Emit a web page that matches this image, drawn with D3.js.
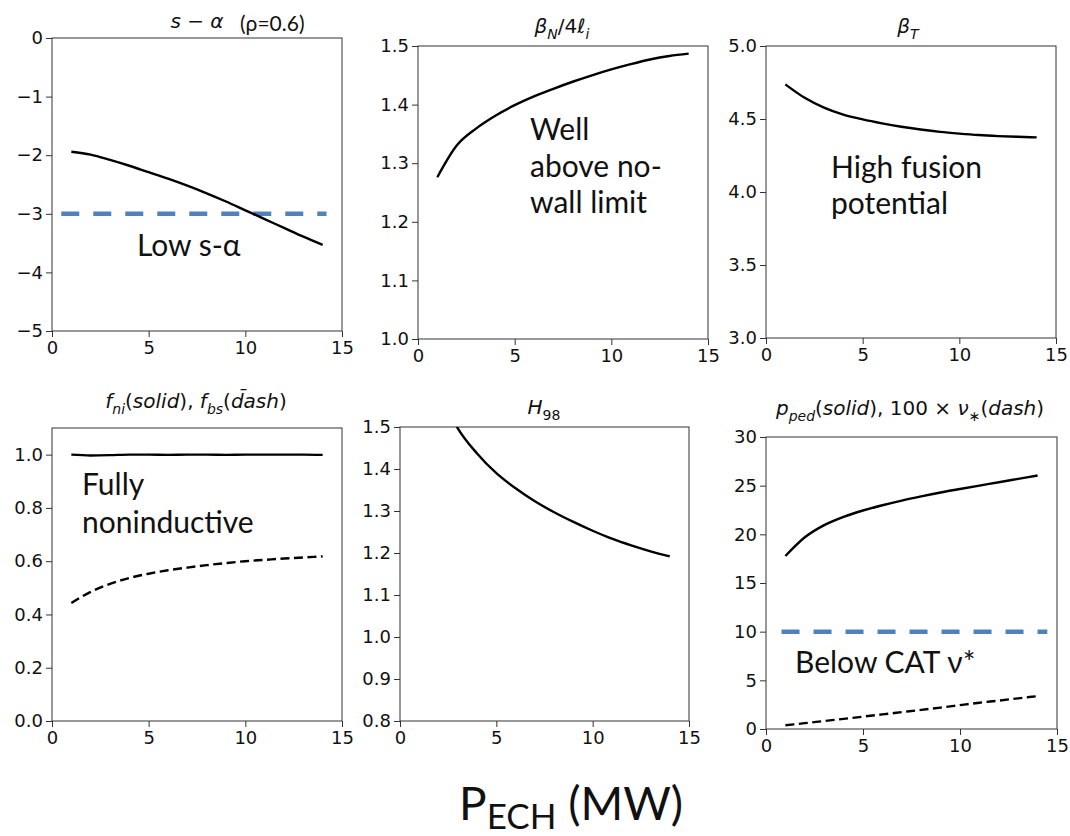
<!DOCTYPE html>
<html>
<head>
<meta charset="utf-8">
<script src="https://cdn.jsdelivr.net/npm/d3@7"></script>
<style>
  body { margin: 0; background: #fff; }
  .title { font-family: "DejaVu Sans", sans-serif; fill: #111; }
  .note { font-family: Lato, "Open Sans", sans-serif; font-size: 30px; fill: #111; }
</style>
</head>
<body>
<div id="container"></div>
<script>
/** CONSTANTS AND GLOBALS */
const width = 1070,
  height = 836;

/** DATA */
const pech = [1, 2, 3, 4, 5, 6, 7, 8, 9, 10, 11, 12, 13, 14];
const xTicks = [0, 5, 10, 15];

const sAlpha = [-1.94, -1.99, -2.08, -2.18, -2.29, -2.4, -2.52, -2.65, -2.79, -2.94, -3.09, -3.24, -3.39, -3.53];
const sAlphaLimit = -3;
const sAlphaLimitX = [0.48, 14.2];
const sAlphaTicks = [-5, -4, -3, -2, -1, 0];

const betaN4li = [1.276, 1.33, 1.359, 1.381, 1.399, 1.414, 1.427, 1.439, 1.45, 1.46, 1.469, 1.477, 1.483, 1.487];
const betaN4liTicks = [1.0, 1.1, 1.2, 1.3, 1.4, 1.5];

const betaT = [4.737, 4.645, 4.578, 4.53, 4.497, 4.47, 4.447, 4.428, 4.412, 4.4, 4.39, 4.383, 4.378, 4.374];
const betaTTicks = [3.0, 3.5, 4.0, 4.5, 5.0];

const fni = [1.0, 0.997, 0.998, 1.0, 1.0, 0.999, 1.0, 1.0, 0.999, 1.0, 1.0, 1.0, 1.0, 0.999];
const fbs = [0.443, 0.485, 0.515, 0.537, 0.553, 0.566, 0.576, 0.585, 0.593, 0.6, 0.605, 0.61, 0.614, 0.618];
const fTicks = [0.0, 0.2, 0.4, 0.6, 0.8, 1.0];

const h98 = [1.72, 1.59, 1.497, 1.437, 1.39, 1.354, 1.323, 1.297, 1.274, 1.253, 1.234, 1.218, 1.204, 1.192];
const h98Ticks = [0.8, 0.9, 1.0, 1.1, 1.2, 1.3, 1.4, 1.5];

const pPed = [17.77, 19.7, 20.95, 21.8, 22.45, 22.99, 23.47, 23.9, 24.3, 24.66, 25.01, 25.35, 25.7, 26.05];
const nuStar100 = [0.38, 0.6, 0.82, 1.04, 1.27, 1.5, 1.73, 1.96, 2.2, 2.45, 2.7, 2.92, 3.15, 3.38];
const nuStarLimit = 10;
const nuStarLimitX = [0.8, 14.5];
const pPedTicks = [0, 5, 10, 15, 20, 25, 30];

let svg;

/** PANELS */
const panels = [
  {
    box: { left: 52, top: 38, right: 342, bottom: 331 },
    yDomain: [-5, 0], yTicks: sAlphaTicks, yFmt: d3.format("d"),
    series: [{ y: sAlpha }],
    ref: { y: sAlphaLimit, x: sAlphaLimitX },
    title: { x: 197, y: 28, parts: [{ t: "s", it: true }, { t: " − " }, { t: "α", it: true }] },
    notes: [{ x: 137, y: 256, t: "Low s-α" }]
  },
  {
    box: { left: 418, top: 46, right: 708, bottom: 339 },
    yDomain: [1.0, 1.5], yTicks: betaN4liTicks, yFmt: d3.format(".1f"),
    series: [{ y: betaN4li }],
    title: { x: 562, y: 33, parts: [{ t: "β", it: true }, { t: "N", it: true, sub: true }, { t: "/4" }, { t: "ℓ", it: true }, { t: "i", it: true, sub: true }] },
    notes: [{ x: 530, y: 140, t: "Well" }, { x: 530, y: 177, t: "above no-" }, { x: 530, y: 213, t: "wall limit" }]
  },
  {
    box: { left: 766, top: 46, right: 1056, bottom: 338 },
    yDomain: [3.0, 5.0], yTicks: betaTTicks, yFmt: d3.format(".1f"),
    series: [{ y: betaT }],
    title: { x: 908, y: 33, parts: [{ t: "β", it: true }, { t: "T", it: true, sub: true }] },
    notes: [{ x: 831, y: 178, t: "High fusion" }, { x: 831, y: 214, t: "potential" }]
  },
  {
    box: { left: 52, top: 428, right: 342, bottom: 721 },
    yDomain: [0, 1.1], yTicks: fTicks, yFmt: d3.format(".1f"),
    series: [{ y: fni }, { y: fbs, dash: "9,4.5" }],
    title: { x: 196, y: 408, parts: [
      { t: "f", it: true }, { t: "ni", it: true, sub: true }, { t: "(" }, { t: "solid", it: true }, { t: "), " },
      { t: "f", it: true }, { t: "bs", it: true, sub: true }, { t: "(" }, { t: "d\u0304ash", it: true }, { t: ")" }] },
    notes: [{ x: 82, y: 495, t: "Fully" }, { x: 82, y: 533, t: "noninductive" }]
  },
  {
    box: { left: 400, top: 427, right: 689, bottom: 721 },
    yDomain: [0.8, 1.5], yTicks: h98Ticks, yFmt: d3.format(".1f"),
    series: [{ y: h98 }],
    title: { x: 544, y: 414, parts: [{ t: "H", it: true }, { t: "98", sub: true }] },
    notes: []
  },
  {
    box: { left: 766, top: 437, right: 1057, bottom: 729 },
    yDomain: [0, 30], yTicks: pPedTicks, yFmt: d3.format("d"),
    series: [{ y: pPed }, { y: nuStar100, dash: "9,4.5" }],
    ref: { y: nuStarLimit, x: nuStarLimitX },
    title: { x: 910, y: 415, parts: [
      { t: "p", it: true }, { t: "ped", it: true, sub: true }, { t: "(" }, { t: "solid", it: true }, { t: "), 100 × " },
      { t: "ν", it: true }, { t: "∗", sub: true }, { t: "(" }, { t: "dash", it: true }, { t: ")" }] },
    notes: [{ x: 795, y: 673, t: "Below CAT ν*" }]
  }
];

/** INIT */
function init() {
  svg = d3.select("#container")
    .append("svg")
    .attr("width", width)
    .attr("height", height)
    .style("background", "#fff");

  panels.forEach((p, i) => drawPanel(p, i));

  // shared x label
  const xl = svg.append("text")
    .attr("x", 459)
    .attr("y", 820)
    .attr("font-family", "Lato, 'Open Sans', sans-serif")
    .attr("font-size", 46)
    .attr("fill", "#111");
  xl.append("tspan").text("P");
  xl.append("tspan").text("ECH").attr("font-size", 35).attr("dy", 9);
  xl.append("tspan").text(" (MW)").attr("dy", -9);
}

function richText(sel, parts, size) {
  let shift = 0;
  parts.forEach(p => {
    const target = p.sub ? size * 0.3 : 0;
    sel.append("tspan")
      .text(p.t)
      .attr("font-style", p.it ? "italic" : "normal")
      .attr("font-size", p.sub ? size * 0.7 : size)
      .attr("dy", target - shift);
    shift = target;
  });
}

function styleAxis(a) {
  a.select(".domain").remove();
  a.selectAll(".tick line").attr("stroke", "#333");
  a.selectAll(".tick text")
    .attr("fill", "#111")
    .style("font-family", "'DejaVu Sans', sans-serif")
    .style("font-size", "18px");
}

function drawPanel(p, i) {
  const b = p.box;
  const x = d3.scaleLinear().domain([0, 15]).range([b.left, b.right]);
  const y = d3.scaleLinear().domain(p.yDomain).range([b.bottom, b.top]);

  const g = svg.append("g").attr("class", "panel");

  g.append("clipPath")
    .attr("id", "clip" + i)
    .append("rect")
    .attr("x", b.left)
    .attr("y", b.top)
    .attr("width", b.right - b.left)
    .attr("height", b.bottom - b.top);

  // axes
  g.append("g")
    .attr("transform", `translate(0,${b.bottom})`)
    .call(d3.axisBottom(x).tickValues(xTicks).tickFormat(d3.format("d")).tickSize(6).tickPadding(4).tickSizeOuter(0))
    .call(styleAxis);

  g.append("g")
    .attr("transform", `translate(${b.left},0)`)
    .call(d3.axisLeft(y).tickValues(p.yTicks).tickFormat(p.yFmt).tickSize(6).tickPadding(3).tickSizeOuter(0))
    .call(styleAxis);

  // frame
  g.append("rect")
    .attr("x", b.left)
    .attr("y", b.top)
    .attr("width", b.right - b.left)
    .attr("height", b.bottom - b.top)
    .attr("fill", "none")
    .attr("stroke", "#333")
    .attr("stroke-width", 1);

  const line = d3.line()
    .x((d, j) => x(pech[j]))
    .y(d => y(d))
    .curve(d3.curveMonotoneX);

  const plot = g.append("g").attr("clip-path", `url(#clip${i})`);

  if (p.ref) {
    plot.append("line")
      .attr("x1", x(p.ref.x[0]))
      .attr("x2", x(p.ref.x[1]))
      .attr("y1", y(p.ref.y))
      .attr("y2", y(p.ref.y))
      .attr("stroke", "#4f81bd")
      .attr("stroke-width", 4.5)
      .attr("stroke-dasharray", "18,14");
  }

  plot.selectAll(".series")
    .data(p.series)
    .join("path")
    .attr("class", "series")
    .attr("d", s => line(s.y))
    .attr("fill", "none")
    .attr("stroke", "#000")
    .attr("stroke-width", 2.4)
    .attr("stroke-dasharray", s => s.dash || null);

  // title
  const t = g.append("text")
    .attr("class", "title")
    .attr("x", p.title.x)
    .attr("y", p.title.y)
    .attr("text-anchor", "middle");
  richText(t, p.title.parts, 20);

  if (i === 0) {
    g.append("text")
      .attr("x", 240)
      .attr("y", 31)
      .attr("font-family", "Lato, 'Open Sans', sans-serif")
      .attr("font-size", 21)
      .attr("fill", "#111")
      .text("(ρ=0.6)");
  }

  g.selectAll(".note")
    .data(p.notes)
    .join("text")
    .attr("class", "note")
    .attr("x", d => d.x)
    .attr("y", d => d.y)
    .text(d => d.t);
}

init();
</script>
</body>
</html>
